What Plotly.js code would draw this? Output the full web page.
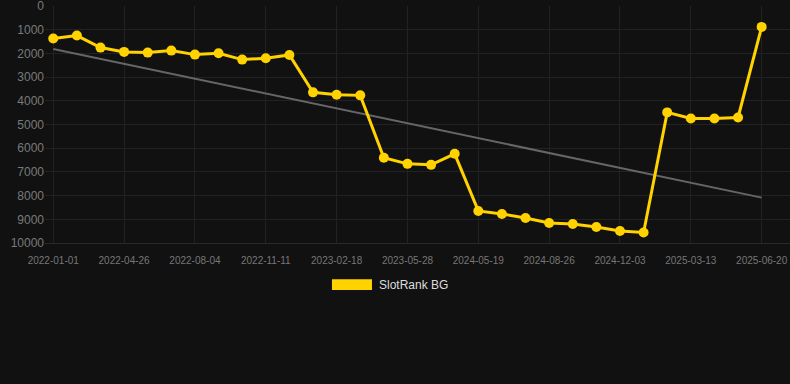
<!DOCTYPE html>
<html>
<head>
<meta charset="utf-8">
<script src="https://cdn.plot.ly/plotly-3.0.1.min.js"></script>
<style>
html,body{margin:0;padding:0;background:#111111;}
#chart{width:790px;height:384px;}
</style>
</head>
<body>
<div id="chart"></div>
<script>
// Categories (evenly spaced points; only every third date is labelled)
var dates = [
  "2022-01-01","2022-02-08","2022-03-18","2022-04-26","2022-06-01","2022-07-02",
  "2022-08-04","2022-09-06","2022-10-09","2022-11-11","2022-12-14","2023-01-16",
  "2023-02-18","2023-03-23","2023-04-25","2023-05-28","2023-06-30","2024-04-16",
  "2024-05-19","2024-06-21","2024-07-24","2024-08-26","2024-09-28","2024-10-31",
  "2024-12-03","2025-01-05","2025-02-08","2025-03-13","2025-04-15","2025-05-18",
  "2025-06-20"
];
// SlotRank BG rank values
var ranks = [
  1374, 1247, 1755, 1937, 1966, 1882,
  2051, 1994, 2262, 2206, 2065, 3643,
  3742, 3771, 6406, 6660, 6702, 6237,
  8647, 8774, 8943, 9154, 9197, 9324,
  9493, 9555, 4490, 4744, 4744, 4702,
  881
];
// Trend line end values
var trendDates = ["2022-01-01", "2025-06-20"];
var trendValues = [1810, 8085];
// Tick labels
var tickLabels = ["2022-01-01","2022-04-26","2022-08-04","2022-11-11","2023-02-18",
  "2023-05-28","2024-05-19","2024-08-26","2024-12-03","2025-03-13","2025-06-20"];
var yTicks = [0,1000,2000,3000,4000,5000,6000,7000,8000,9000,10000];
var legendName = "SlotRank BG";

var font = "Liberation Sans, Arial, sans-serif";
var gold = "#FFD200";

var traces = [
  {
    x: trendDates, y: trendValues, type: "scatter", mode: "lines",
    line: {color: "#666666", width: 2}, hoverinfo: "skip", showlegend: false
  },
  {
    x: dates, y: ranks, type: "scatter", mode: "lines+markers", name: legendName,
    line: {color: gold, width: 3}, marker: {color: gold, size: 10},
    showlegend: false
  }
];

var layout = {
  width: 790, height: 384,
  paper_bgcolor: "#111111", plot_bgcolor: "#111111",
  margin: {l: 45, r: 0, t: 6, b: 141},
  font: {family: font},
  showlegend: false,
  xaxis: {
    type: "category", categoryorder: "array", categoryarray: dates,
    range: [-0.35, 31.2],
    tickmode: "array", tickvals: tickLabels, ticktext: tickLabels,
    tickfont: {size: 10, color: "#777777", family: font},
    ticklabelstandoff: 8,
    showgrid: true, gridcolor: "#222222", gridwidth: 1,
    zeroline: false, showline: true, linecolor: "#2a2a2a", linewidth: 1,
    ticks: "", fixedrange: true
  },
  yaxis: {
    range: [10000, 0],
    tickmode: "array", tickvals: yTicks, ticktext: yTicks.map(String),
    tickfont: {size: 12, color: "#7a7a7a", family: font},
    ticklabeloverflow: "allow",
    showgrid: true, gridcolor: "#222222", gridwidth: 1,
    zeroline: false, showline: false, ticks: "", fixedrange: true
  },
  shapes: [
    {type: "rect", xref: "paper", yref: "paper",
     x0: 0.3852, x1: 0.4389, y0: -0.153, y1: -0.198,
     fillcolor: gold, line: {width: 0}}
  ],
  annotations: [
    {xref: "paper", yref: "paper", x: 0.4456, y: -0.1755,
     xanchor: "left", yanchor: "middle", showarrow: false,
     text: legendName, font: {size: 12, color: "#dddddd", family: font}}
  ]
};

Plotly.newPlot("chart", traces, layout, {displayModeBar: false, staticPlot: true});
</script>
</body>
</html>
